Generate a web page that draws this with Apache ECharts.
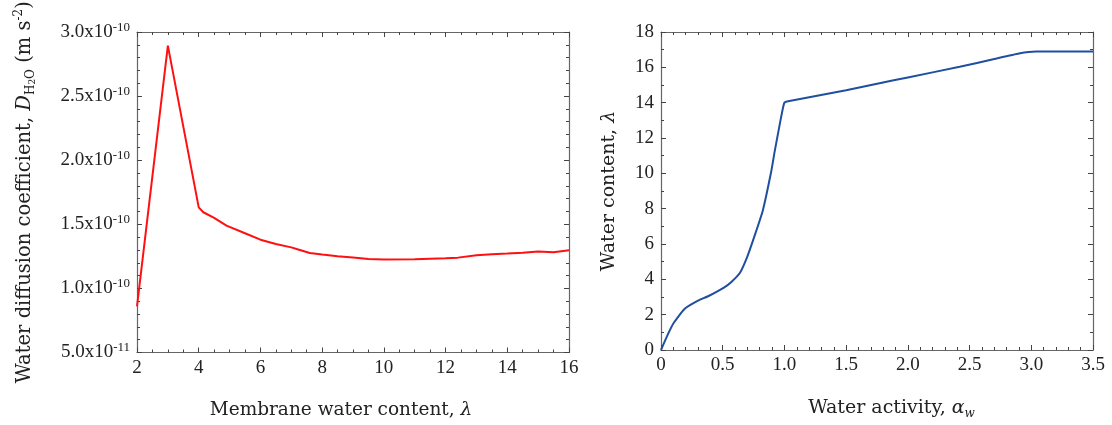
<!DOCTYPE html>
<html>
<head>
<meta charset="utf-8">
<script src="https://cdn.jsdelivr.net/npm/echarts@6/dist/echarts.min.js"></script>
<style>
  html, body { margin: 0; padding: 0; background: #fff; }
  #chart { width: 1112px; height: 425px; }
</style>
</head>
<body>
<div id="chart"></div>
<script>
// left panel: diffusion coefficient vs membrane water content
const lambdaD = [2, 3, 4, 4.15, 4.5, 4.9, 5.5, 6, 6.5, 7, 7.2, 7.6, 8, 8.5, 9, 9.5, 10, 11, 12, 12.4, 13, 13.5, 14, 14.5, 15, 15.5, 16];
const diffusion = [0.86e-10, 2.894e-10, 1.632e-10, 1.594e-10, 1.55e-10, 1.49e-10, 1.43e-10, 1.38e-10, 1.346e-10, 1.32e-10, 1.305e-10,
  1.276e-10, 1.264e-10, 1.25e-10, 1.241e-10, 1.23e-10, 1.225e-10, 1.228e-10, 1.235e-10, 1.24e-10, 1.259e-10, 1.266e-10,
  1.272e-10, 1.279e-10, 1.287e-10, 1.282e-10, 1.297e-10];

// right panel: water content vs water activity
const activity = [0, 0.05, 0.1, 0.19, 0.3, 0.39, 0.51, 0.57, 0.64, 0.7, 0.76, 0.825, 0.893, 0.92, 0.96, 0.985, 1.0, 1.03,
  1.5, 1.77, 2.0, 2.42, 2.7, 2.9, 3.04, 3.5];
const waterContent = [0, 0.8, 1.5, 2.32, 2.79, 3.07, 3.53, 3.85, 4.37, 5.3, 6.5, 7.9, 10.1, 11.2, 12.7, 13.6, 14.0, 14.08,
  14.7, 15.1, 15.43, 16.03, 16.47, 16.78, 16.89, 16.89];

// axis ranges (tick labels come from these)
const leftX = { min: 2, max: 16, interval: 2, minor: 4 };
const leftY = { min: 5e-11, max: 3e-10, interval: 5e-11, minor: 5 };
const rightX = { min: 0, max: 3.5, interval: 0.5, minor: 5 };
const rightY = { min: 0, max: 18, interval: 2, minor: 2 };

const serif = '"DejaVu Serif", serif';
const numFont = '"Liberation Serif", serif';
const txt = '#222';
const frame = '#666';

const chart = echarts.init(document.getElementById('chart'));

function sci(v) {
  const e = Math.floor(Math.log10(v) + 1e-9);
  const m = v / Math.pow(10, e);
  return '{m|' + m.toFixed(1) + 'x10}{e|' + e + '}';
}

function frameAxis(r, grid, pos, extra) {
  return Object.assign({
    type: 'value',
    gridIndex: grid,
    position: pos,
    min: r.min, max: r.max, interval: r.interval,
    axisLine: { show: true, onZero: false, lineStyle: { color: frame, width: 1.2 } },
    axisTick: { show: true, inside: true, length: 5, lineStyle: { color: '#444' } },
    minorTick: { show: true, splitNumber: r.minor, length: 3, lineStyle: { color: '#444' } },
    splitLine: { show: false },
    axisLabel: { show: false }
  }, extra || {});
}

function nameRich(size) {
  const s = Math.round(size * 0.63);
  return {
    t: { fontFamily: serif, fontSize: size, color: txt, lineHeight: 24 },
    i: { fontFamily: serif, fontSize: size, color: txt, fontStyle: 'italic', lineHeight: 24 },
    sub: { fontFamily: serif, fontSize: s, color: txt, verticalAlign: 'bottom', lineHeight: 12 },
    sub2: { fontFamily: serif, fontSize: 9, color: txt, verticalAlign: 'bottom', lineHeight: 8 },
    isub: { fontFamily: serif, fontSize: s, color: txt, fontStyle: 'italic', verticalAlign: 'bottom', lineHeight: 12 },
    sup: { fontFamily: serif, fontSize: s, color: txt, verticalAlign: 'top', lineHeight: 12 }
  };
}

const option = {
  animation: false,
  grid: [
    { left: 137, right: 543, top: 32, bottom: 70 },
    { left: 661, right: 19, top: 32, bottom: 70 }
  ],
  xAxis: [
    frameAxis(leftX, 0, 'bottom', {
      axisLabel: { show: true, margin: 6, fontFamily: numFont, fontSize: 19, color: txt },
      name: '{t|Membrane water content, }{i|λ}',
      nameLocation: 'middle', nameGap: 46,
      nameTextStyle: { rich: nameRich(18.5), padding: [0, 24, 0, 0] }
    }),
    frameAxis(leftX, 0, 'top'),
    frameAxis(rightX, 1, 'bottom', {
      axisLabel: {
        show: true, margin: 6, fontFamily: numFont, fontSize: 19, color: txt,
        formatter: v => (v === 0 ? '0' : v.toFixed(1))
      },
      name: '{t|Water activity, }{i|α}{isub|w}',
      nameLocation: 'middle', nameGap: 46,
      nameTextStyle: { rich: nameRich(19), padding: [0, 0, 0, 29] }
    }),
    frameAxis(rightX, 1, 'top')
  ],
  yAxis: [
    frameAxis(leftY, 0, 'left', {
      axisLabel: {
        show: true, margin: 7, formatter: sci,
        rich: {
          m: { fontFamily: numFont, fontSize: 19, color: txt, lineHeight: 22 },
          e: { fontFamily: numFont, fontSize: 13, color: txt, verticalAlign: 'top', lineHeight: 12 }
        }
      },
      name: '{t|Water diffusion coefficient, }{i|D}{sub|H}{sub2|2}{sub|O}{t| (m s}{sup|-2}{t|)}',
      nameLocation: 'middle', nameRotate: 90, nameGap: 100,
      nameTextStyle: { rich: nameRich(19.5) }
    }),
    frameAxis(leftY, 0, 'right'),
    frameAxis(rightY, 1, 'left', {
      axisLabel: { show: true, margin: 7, fontFamily: numFont, fontSize: 19, color: txt },
      name: '{t|Water content, }{i|λ}',
      nameLocation: 'middle', nameRotate: 90, nameGap: 40,
      nameTextStyle: { rich: nameRich(19) }
    }),
    frameAxis(rightY, 1, 'right')
  ],
  series: [
    {
      type: 'line',
      xAxisIndex: 0, yAxisIndex: 0,
      showSymbol: false,
      data: lambdaD.map((x, i) => [x, diffusion[i]]),
      lineStyle: { color: '#ff1010', width: 2 },
      itemStyle: { color: '#ff1010' }
    },
    {
      type: 'line',
      xAxisIndex: 2, yAxisIndex: 2,
      showSymbol: false,
      smooth: 0.15,
      data: activity.map((x, i) => [x, waterContent[i]]),
      lineStyle: { color: '#1f4f9e', width: 2 },
      itemStyle: { color: '#1f4f9e' }
    }
  ]
};

chart.setOption(option);
</script>
</body>
</html>
